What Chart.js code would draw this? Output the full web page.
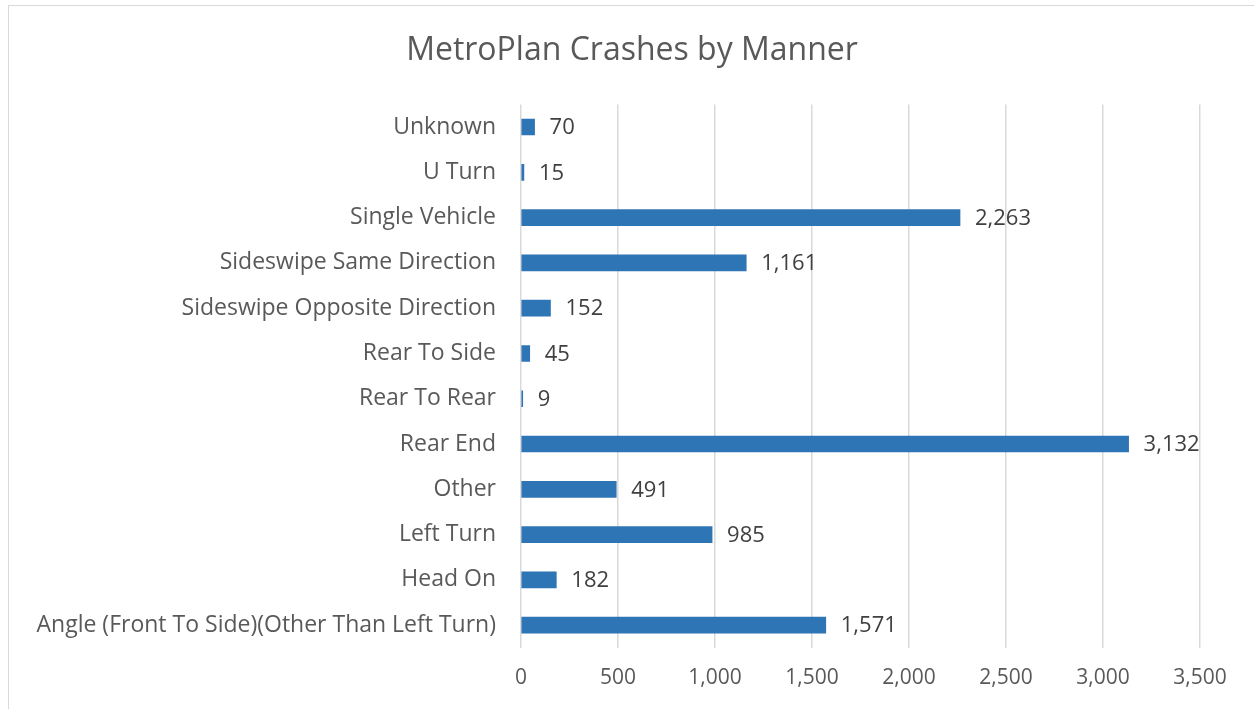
<!DOCTYPE html>
<html>
<head>
<meta charset="utf-8">
<script src="https://cdn.jsdelivr.net/npm/chart.js@4/dist/chart.umd.min.js"></script>
<style>
  html, body { margin: 0; padding: 0; background: #ffffff; overflow: hidden; }
  #wrap { position: relative; width: 1254px; height: 709px; }
  #frame { position: absolute; left: 8px; top: 5px; width: 1300px; height: 760px; border: 1.5px solid #d9d9d9; box-sizing: border-box; pointer-events: none; }
  canvas { position: absolute; left: 0; top: 0; }
</style>
</head>
<body>
<div id="wrap">
  <canvas id="c" width="1254" height="709"></canvas>
  <div id="frame"></div>
</div>
<script>
const chartTitle = "MetroPlan Crashes by Manner";
const categories = [
  "Unknown",
  "U Turn",
  "Single Vehicle",
  "Sideswipe Same Direction",
  "Sideswipe Opposite Direction",
  "Rear To Side",
  "Rear To Rear",
  "Rear End",
  "Other",
  "Left Turn",
  "Head On",
  "Angle (Front To Side)(Other Than Left Turn)"
];
const crashes = [70, 15, 2263, 1161, 152, 45, 9, 3132, 491, 985, 182, 1571];
const xTickValues = [0, 500, 1000, 1500, 2000, 2500, 3000, 3500];

const FONT = "'Open Sans', 'Noto Sans', 'Liberation Sans', sans-serif";

const dataLabels = {
  id: 'dataLabels',
  afterDatasetsDraw(chart) {
    const ctx = chart.ctx;
    const meta = chart.getDatasetMeta(0);
    ctx.save();
    ctx.font = "22px " + FONT;
    ctx.fillStyle = "#404040";
    ctx.textAlign = "left";
    ctx.textBaseline = "middle";
    meta.data.forEach((bar, i) => {
      const v = chart.data.datasets[0].data[i];
      ctx.fillText(v.toLocaleString('en-US'), bar.x + 15, bar.y + 1);
    });
    ctx.restore();
  }
};

new Chart(document.getElementById('c'), {
  type: 'bar',
  data: {
    labels: categories,
    datasets: [{
      label: 'Crashes',
      data: crashes,
      backgroundColor: '#2e75b6',
      borderWidth: 0,
      barThickness: 16
    }]
  },
  options: {
    indexAxis: 'y',
    responsive: false,
    animation: false,
    devicePixelRatio: 1,
    layout: { padding: { left: 10, right: 0, top: 0, bottom: 0 } },
    plugins: {
      legend: { display: false },
      tooltip: { enabled: false },
      title: {
        display: true,
        text: chartTitle,
        color: '#595959',
        font: { family: FONT, size: 32, weight: 'normal' },
        padding: { top: 32, bottom: 34 }
      }
    },
    scales: {
      x: {
        min: 0,
        max: 3500,
        afterBuildTicks(scale) { scale.ticks = xTickValues.map(v => ({ value: v })); },
        ticks: {
          color: '#595959',
          font: { family: FONT, size: 21 },
          padding: 18,
          callback: v => Number(v).toLocaleString('en-US')
        },
        grid: { color: '#d9d9d9', lineWidth: 1.5, drawTicks: false },
        border: { display: false }
      },
      y: {
        afterFit(scale) { scale.width = 511; },
        ticks: {
          color: '#595959',
          font: { family: FONT, size: 23 },
          padding: 25
        },
        grid: { display: false, drawTicks: false },
        border: { display: false }
      },
      spacer: {
        axis: 'y',
        position: 'right',
        display: true,
        afterFit(scale) { scale.width = 54; },
        ticks: { display: false },
        grid: { display: false, drawTicks: false },
        border: { display: false }
      }
    }
  },
  plugins: [dataLabels]
});
</script>
</body>
</html>
